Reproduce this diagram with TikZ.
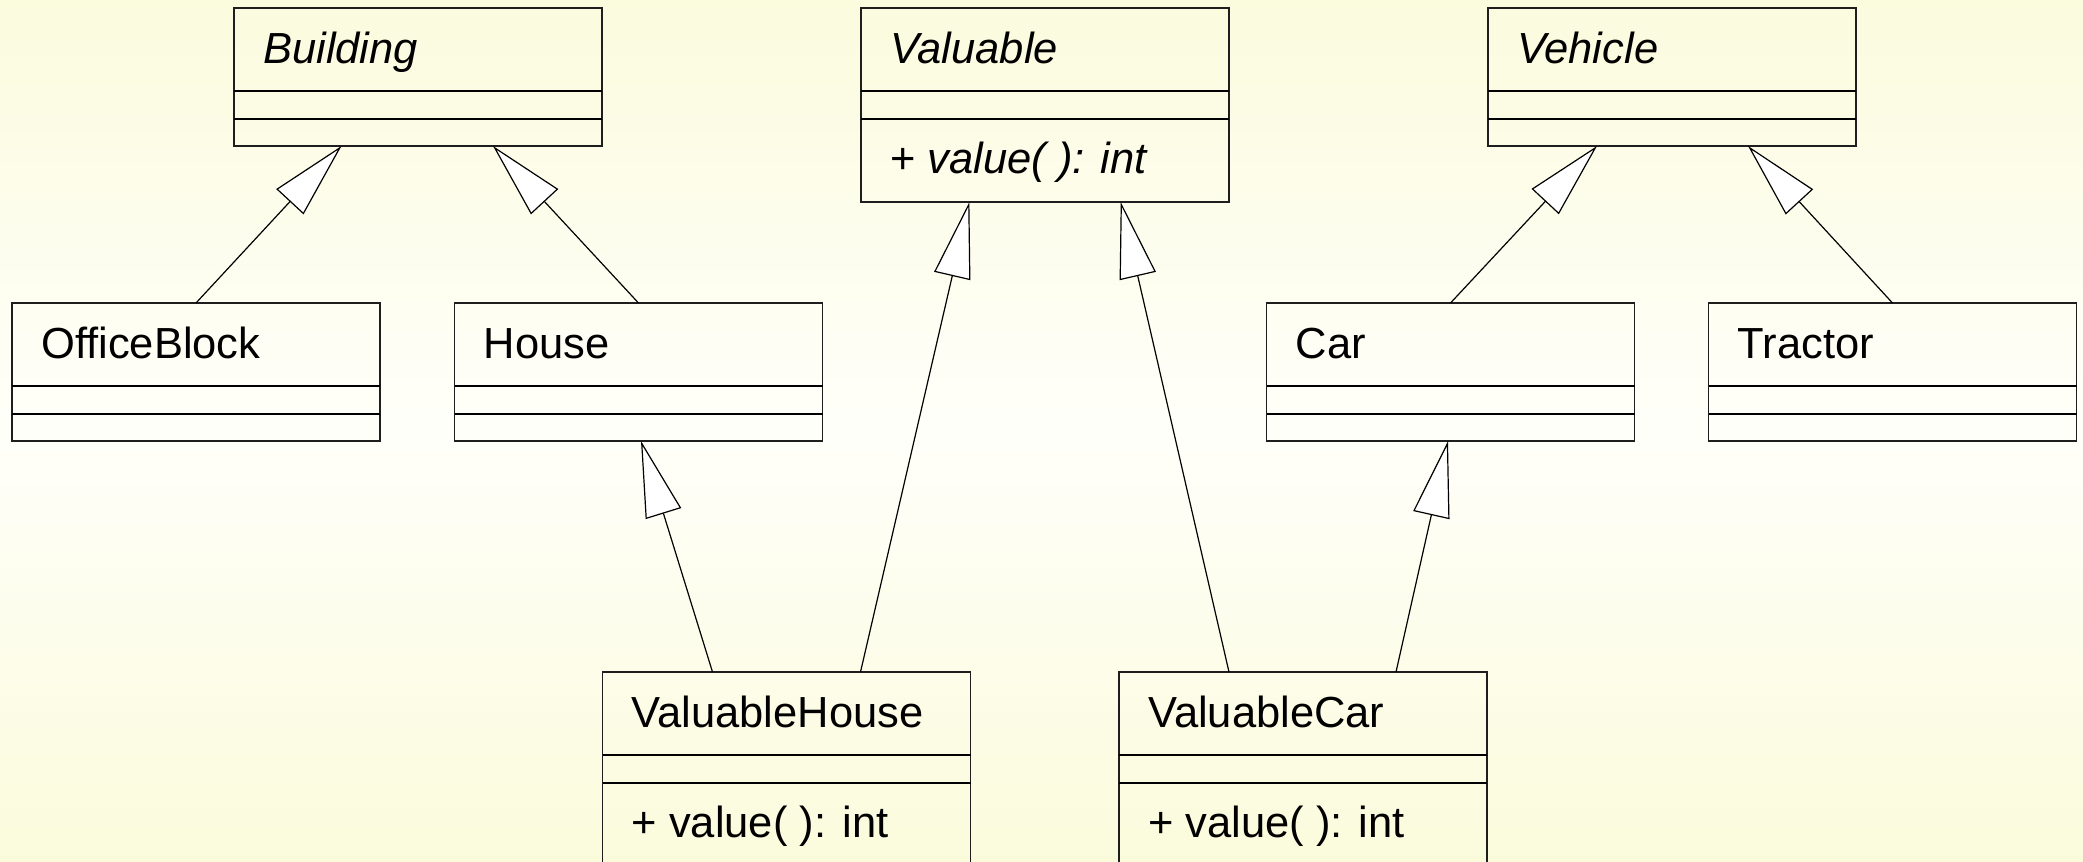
\documentclass[tikz,border=0pt]{standalone}
\usepackage{fontspec}
\setmainfont{Liberation Sans}
\usetikzlibrary{arrows.meta,calc}
\definecolor{bgtop}{RGB}{251,251,222}
\definecolor{bgmid}{RGB}{255,255,250}
\definecolor{bgbot}{RGB}{251,251,220}
\definecolor{boxline}{RGB}{30,30,30}
\tikzset{
  classbox/.style={draw=boxline, line width=1.8pt, minimum width=368pt, inner sep=0pt, outer sep=0pt, rectangle},
  boxtext/.style={anchor=base west, inner sep=0pt, font=\fontsize{43.5pt}{50pt}\selectfont},
  divider/.style={draw=black, line width=2pt},
  gen/.style={draw=black, line width=1.2pt, -{Triangle[length=76pt,width=37pt,fill=white]}}
}
\newcommand{\umlclass}[5]{% name, center x, center y, height, title
  \node[classbox, minimum height=#4pt] (#1) at (#2,#3) {};
  \node[boxtext] (#1-t) at ($(#1.north west)+(29,55)$) {#5};
  \draw[divider] ($(#1.north west)+(0,83)$) -- ($(#1.north east)+(0,83)$);
  \draw[divider] ($(#1.north west)+(0,110.5)$) -- ($(#1.north east)+(0,110.5)$);
}
\begin{document}
\begin{tikzpicture}[x=1pt,y=-1pt]
\useasboundingbox (0,0) rectangle (2083,862);
\shade[top color=bgtop, bottom color=bgbot, middle color=bgmid] (0,0) rectangle (2083,862);

\umlclass{building}{418}{77}{138}{\textit{Building}}
\umlclass{valuable}{1045}{105}{194}{\textit{Valuable}}
\node[boxtext] (valuable-m) at ($(valuable.north west)+(29,165.5)$) {+ \textit{value( ): int}};
\umlclass{vehicle}{1672}{77}{138}{\textit{Vehicle}}

\umlclass{officeblock}{196}{372}{138}{OfficeBlock}
\umlclass{house}{638.5}{372}{138}{House}
\umlclass{car}{1450.5}{372}{138}{Car}
\umlclass{tractor}{1892.5}{372}{138}{Tractor}

\umlclass{valuablehouse}{786.5}{769}{194}{ValuableHouse}
\node[boxtext] (valuablehouse-m) at ($(valuablehouse.north west)+(29,165.5)$) {+ value( ): int};
\umlclass{valuablecar}{1303}{769}{194}{ValuableCar}
\node[boxtext] (valuablecar-m) at ($(valuablecar.north west)+(29,165.5)$) {+ value( ): int};

\draw[gen] (officeblock.north) -- ($(building.south)+(-76.5,0)$);
\draw[gen] (house.north) -- ($(building.south)+(75,0)$);
\draw[gen] (car.north) -- ($(vehicle.south)+(-75,0)$);
\draw[gen] (tractor.north) -- ($(vehicle.south)+(76,0)$);
\draw[gen] ($(valuablehouse.north)+(74,0)$) -- ($(valuable.south)+(-75.6,0)$);
\draw[gen] ($(valuablehouse.north)+(-74,0)$) -- ($(house.south)+(2.5,0)$);
\draw[gen] ($(valuablecar.north)+(-74,0)$) -- ($(valuable.south)+(75.7,0)$);
\draw[gen] ($(valuablecar.north)+(93,0)$) -- ($(car.south)+(-2.5,0)$);
\end{tikzpicture}
\end{document}
